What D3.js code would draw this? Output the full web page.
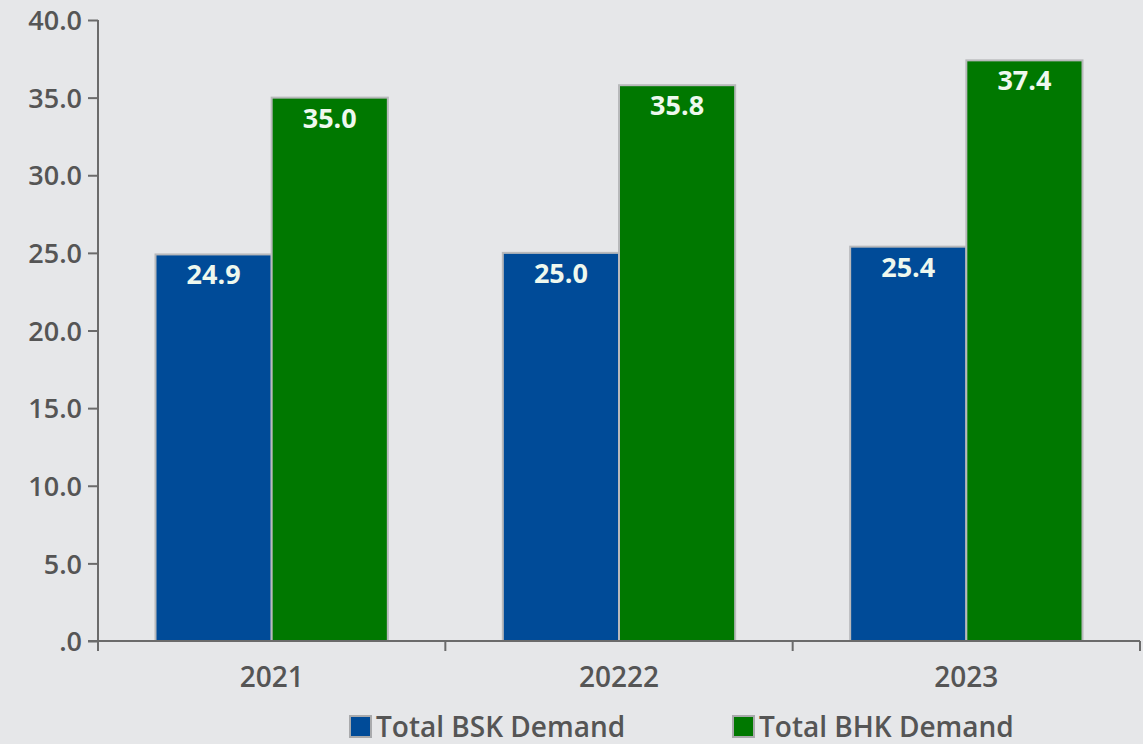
<!DOCTYPE html>
<html>
<head>
<meta charset="utf-8">
<script src="https://cdn.jsdelivr.net/npm/d3@7"></script>
<style>
  html, body { margin: 0; padding: 0; background: #e6e7e9; }
  svg { display: block; font-family: "Open Sans", "Noto Sans", sans-serif; }
</style>
</head>
<body>
<svg id="chart" width="1143" height="744"></svg>
<script>
const categories = ["2021", "20222", "2023"];
const seriesNames = ["Total BSK Demand", "Total BHK Demand"];
const bskValues = [24.9, 25.0, 25.4];
const bhkValues = [35.0, 35.8, 37.4];
const yTicks = [0, 5, 10, 15, 20, 25, 30, 35, 40];
const colors = ["#004b98", "#007800"];

(function () {
const svg = d3.select("#chart");
const W = 1143, H = 744;
const mLeft = 98, mRight = 1140, mTop = 20, mBottom = 641;

svg.append("rect").attr("width", W).attr("height", H).attr("fill", "#e6e7e9");

const x = d3.scaleBand().domain(categories).range([mLeft, mRight]).paddingInner(0).paddingOuter(0);
const xs = d3.scaleBand().domain(seriesNames).range([57.5, x.bandwidth() - 57.5]).padding(0);
const y = d3.scaleLinear().domain([0, 40]).range([mBottom, mTop]);

const data = categories.map((c, i) => ({cat: c, vals: [
  {name: seriesNames[0], v: bskValues[i], color: colors[0]},
  {name: seriesNames[1], v: bhkValues[i], color: colors[1]}
]}));

// bars
const groups = svg.append("g").selectAll("g").data(data).join("g")
  .attr("transform", d => `translate(${x(d.cat)},0)`);
groups.selectAll("rect").data(d => d.vals).join("rect")
  .attr("x", d => xs(d.name))
  .attr("width", xs.bandwidth())
  .attr("y", d => y(d.v))
  .attr("height", d => y(0) - y(d.v))
  .attr("fill", d => d.color)
  .attr("stroke", "#b8b9bb")
  .attr("stroke-width", 2);
groups.selectAll("text").data(d => d.vals).join("text")
  .attr("x", d => xs(d.name) + xs.bandwidth() / 2)
  .attr("y", d => y(d.v) + 30)
  .attr("text-anchor", "middle")
  .attr("fill", "#eef8ee")
  .attr("font-size", 27)
  .attr("font-weight", 700)
  .text(d => d.v.toFixed(1));

// y axis
const yAxis = d3.axisLeft(y).tickValues(yTicks).tickSize(10).tickSizeOuter(0)
  .tickFormat(d => d === 0 ? ".0" : d3.format(".1f")(d));
const gy = svg.append("g").attr("transform", `translate(${mLeft},0)`).call(yAxis);
gy.select(".domain").attr("stroke", "#6b6b6b").attr("stroke-width", 2)
  .attr("d", `M0,${mTop}V${mBottom + 10}`);
gy.selectAll(".tick line").attr("stroke", "#6b6b6b").attr("stroke-width", 2);
gy.selectAll(".tick text").attr("fill", "#555").attr("font-size", 27).attr("font-weight", 600)
  .attr("x", -16).attr("dy", "0.36em").style("font-family", "'Open Sans', sans-serif");

// x axis
const gx = svg.append("g").attr("transform", `translate(0,${mBottom})`);
gx.append("line").attr("x1", mLeft - 10).attr("x2", mRight).attr("y1", 0).attr("y2", 0)
  .attr("stroke", "#6b6b6b").attr("stroke-width", 2);
const boundaries = categories.map(c => x(c)).concat([x(categories[categories.length - 1]) + x.bandwidth()]);
gx.selectAll("line.tk").data(boundaries).join("line").attr("class", "tk")
  .attr("x1", d => d).attr("x2", d => d).attr("y1", 0).attr("y2", 10)
  .attr("stroke", "#6b6b6b").attr("stroke-width", 2);
gx.selectAll("text").data(categories).join("text")
  .attr("x", d => x(d) + x.bandwidth() / 2)
  .attr("y", 46)
  .attr("text-anchor", "middle")
  .attr("fill", "#555").attr("font-size", 28).attr("font-weight", 600)
  .text(d => d);

// legend
const legendX = [350, 733];
const lg = svg.append("g").selectAll("g").data(seriesNames).join("g")
  .attr("transform", (d, i) => `translate(${legendX[i]},716)`);
lg.append("rect").attr("width", 21).attr("height", 21)
  .attr("fill", (d, i) => colors[i]).attr("stroke", "#a9aaac").attr("stroke-width", 2);
lg.append("text").attr("x", 26).attr("y", 21)
  .attr("fill", "#555").attr("font-size", 28).attr("font-weight", 600)
  .text(d => d);
})();
</script>
</body>
</html>
